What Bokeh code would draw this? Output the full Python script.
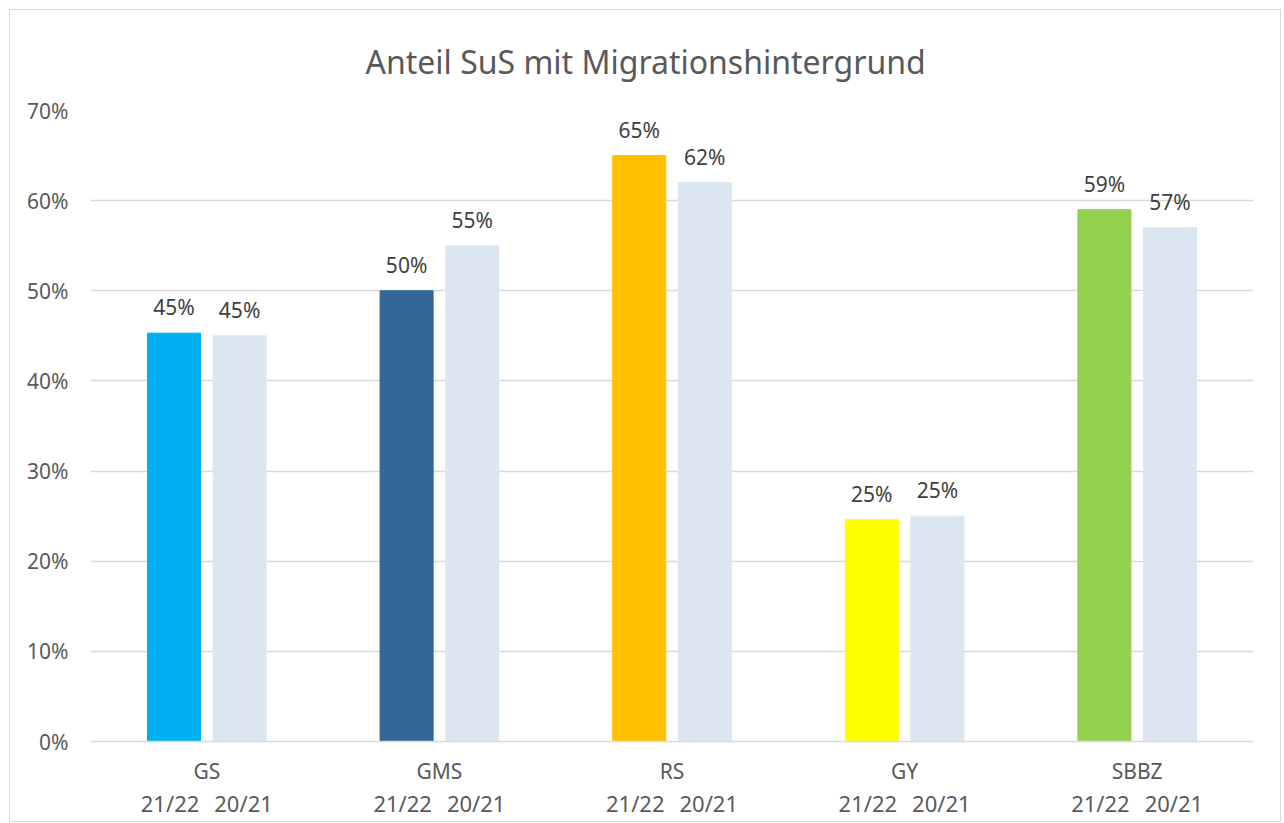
from bokeh.plotting import figure
from bokeh.models import Range1d, FixedTicker, PrintfTickFormatter, LinearAxis, ColumnDataSource
from bokeh.embed import file_html
from bokeh.resources import INLINE

categories = ["GS", "GMS", "RS", "GY", "SBBZ"]
years = ["21/22", "20/21"]
values_2122 = [45.3, 50.0, 65.0, 24.6, 59.0]
values_2021 = [45.0, 55.0, 62.0, 25.0, 57.0]
colors_2122 = ["#00B0F0", "#356796", "#FFC000", "#FFFF00", "#92D050"]
color_2021 = "#DCE6F2"
y_ticks = [0, 10, 20, 30, 40, 50, 60, 70]
title_text = "Anteil SuS mit Migrationshintergrund"

FONT = "Noto Sans"
offset = 0.141
bw = 0.228
label_offset = 0.158

idx = list(range(len(categories)))
src1 = ColumnDataSource(dict(
    x=[i - offset for i in idx], top=values_2122, color=colors_2122,
    label=[f"{round(v)}%" for v in values_2122]))
src2 = ColumnDataSource(dict(
    x=[i + offset for i in idx], top=values_2021, color=[color_2021] * len(idx),
    label=[f"{round(v)}%" for v in values_2021]))

p = figure(width=1270, height=811, output_backend="svg", toolbar_location=None,
           x_range=Range1d(-0.5, len(categories) - 0.5), y_range=Range1d(0, 70),
           min_border_left=80, min_border_right=27, min_border_top=100, min_border_bottom=80,
           x_axis_location=None, title=title_text)
p.margin = (10, 0, 0, 10)
p.styles = {"outline": "1px solid #D9D9D9"}
p.outline_line_color = None
p.background_fill_color = "white"
p.border_fill_color = "white"

p.title.align = "left"
p.title.offset = 275
p.title.standoff = 55
p.title.text_font = FONT
p.title.text_font_size = "32px"
p.title.text_font_style = "normal"
p.title.text_color = "#595959"

p.vbar(x="x", top="top", width=bw, color="color", source=src1)
p.vbar(x="x", top="top", width=bw, color="color", source=src2)

for s in (src1, src2):
    p.text(x="x", y="top", text="label", source=s, text_align="center",
           text_baseline="bottom", y_offset=-12, text_font_size="21px",
           text_color="#404040", text_font={"value": FONT})

p.xgrid.visible = False
p.ygrid.grid_line_color = "#D9D9D9"
p.ygrid.grid_line_width = 1.5
p.ygrid.ticker = FixedTicker(ticks=y_ticks[1:])

ya = p.yaxis[0]
ya.ticker = FixedTicker(ticks=y_ticks)
ya.formatter = PrintfTickFormatter(format="%d%%")
ya.axis_line_color = None
ya.major_tick_line_color = None
ya.minor_tick_line_color = None
ya.major_tick_in = 0
ya.major_tick_out = 0
ya.major_label_standoff = 22
ya.major_label_text_font = FONT
ya.major_label_text_font_size = "21px"
ya.major_label_text_color = "#595959"

ax1 = LinearAxis(ticker=FixedTicker(ticks=idx),
                 major_label_overrides={i: c for i, c in zip(idx, categories)})
ax1.axis_line_color = "#D9D9D9"
ax1.axis_line_width = 1.5
ax1.major_tick_line_color = None
ax1.minor_tick_line_color = None
ax1.major_tick_in = 0
ax1.major_tick_out = 0
ax1.major_label_standoff = 15
ax1.major_label_text_font = FONT
ax1.major_label_text_font_size = "21px"
ax1.major_label_text_color = "#595959"
p.add_layout(ax1, "below")

pos = []
labs = {}
for i in idx:
    for k, yv in enumerate(years):
        xv = i - label_offset if k == 0 else i + label_offset
        pos.append(xv)
        labs[xv] = yv
ax2 = LinearAxis(ticker=FixedTicker(ticks=pos), major_label_overrides=labs)
ax2.axis_line_color = None
ax2.major_tick_line_color = None
ax2.minor_tick_line_color = None
ax2.major_tick_in = 0
ax2.major_tick_out = 0
ax2.major_label_standoff = 0
ax2.major_label_text_font = FONT
ax2.major_label_text_font_size = "22px"
ax2.major_label_text_color = "#595959"
p.add_layout(ax2, "below")

open("out.html", "w").write(file_html(p, INLINE))
